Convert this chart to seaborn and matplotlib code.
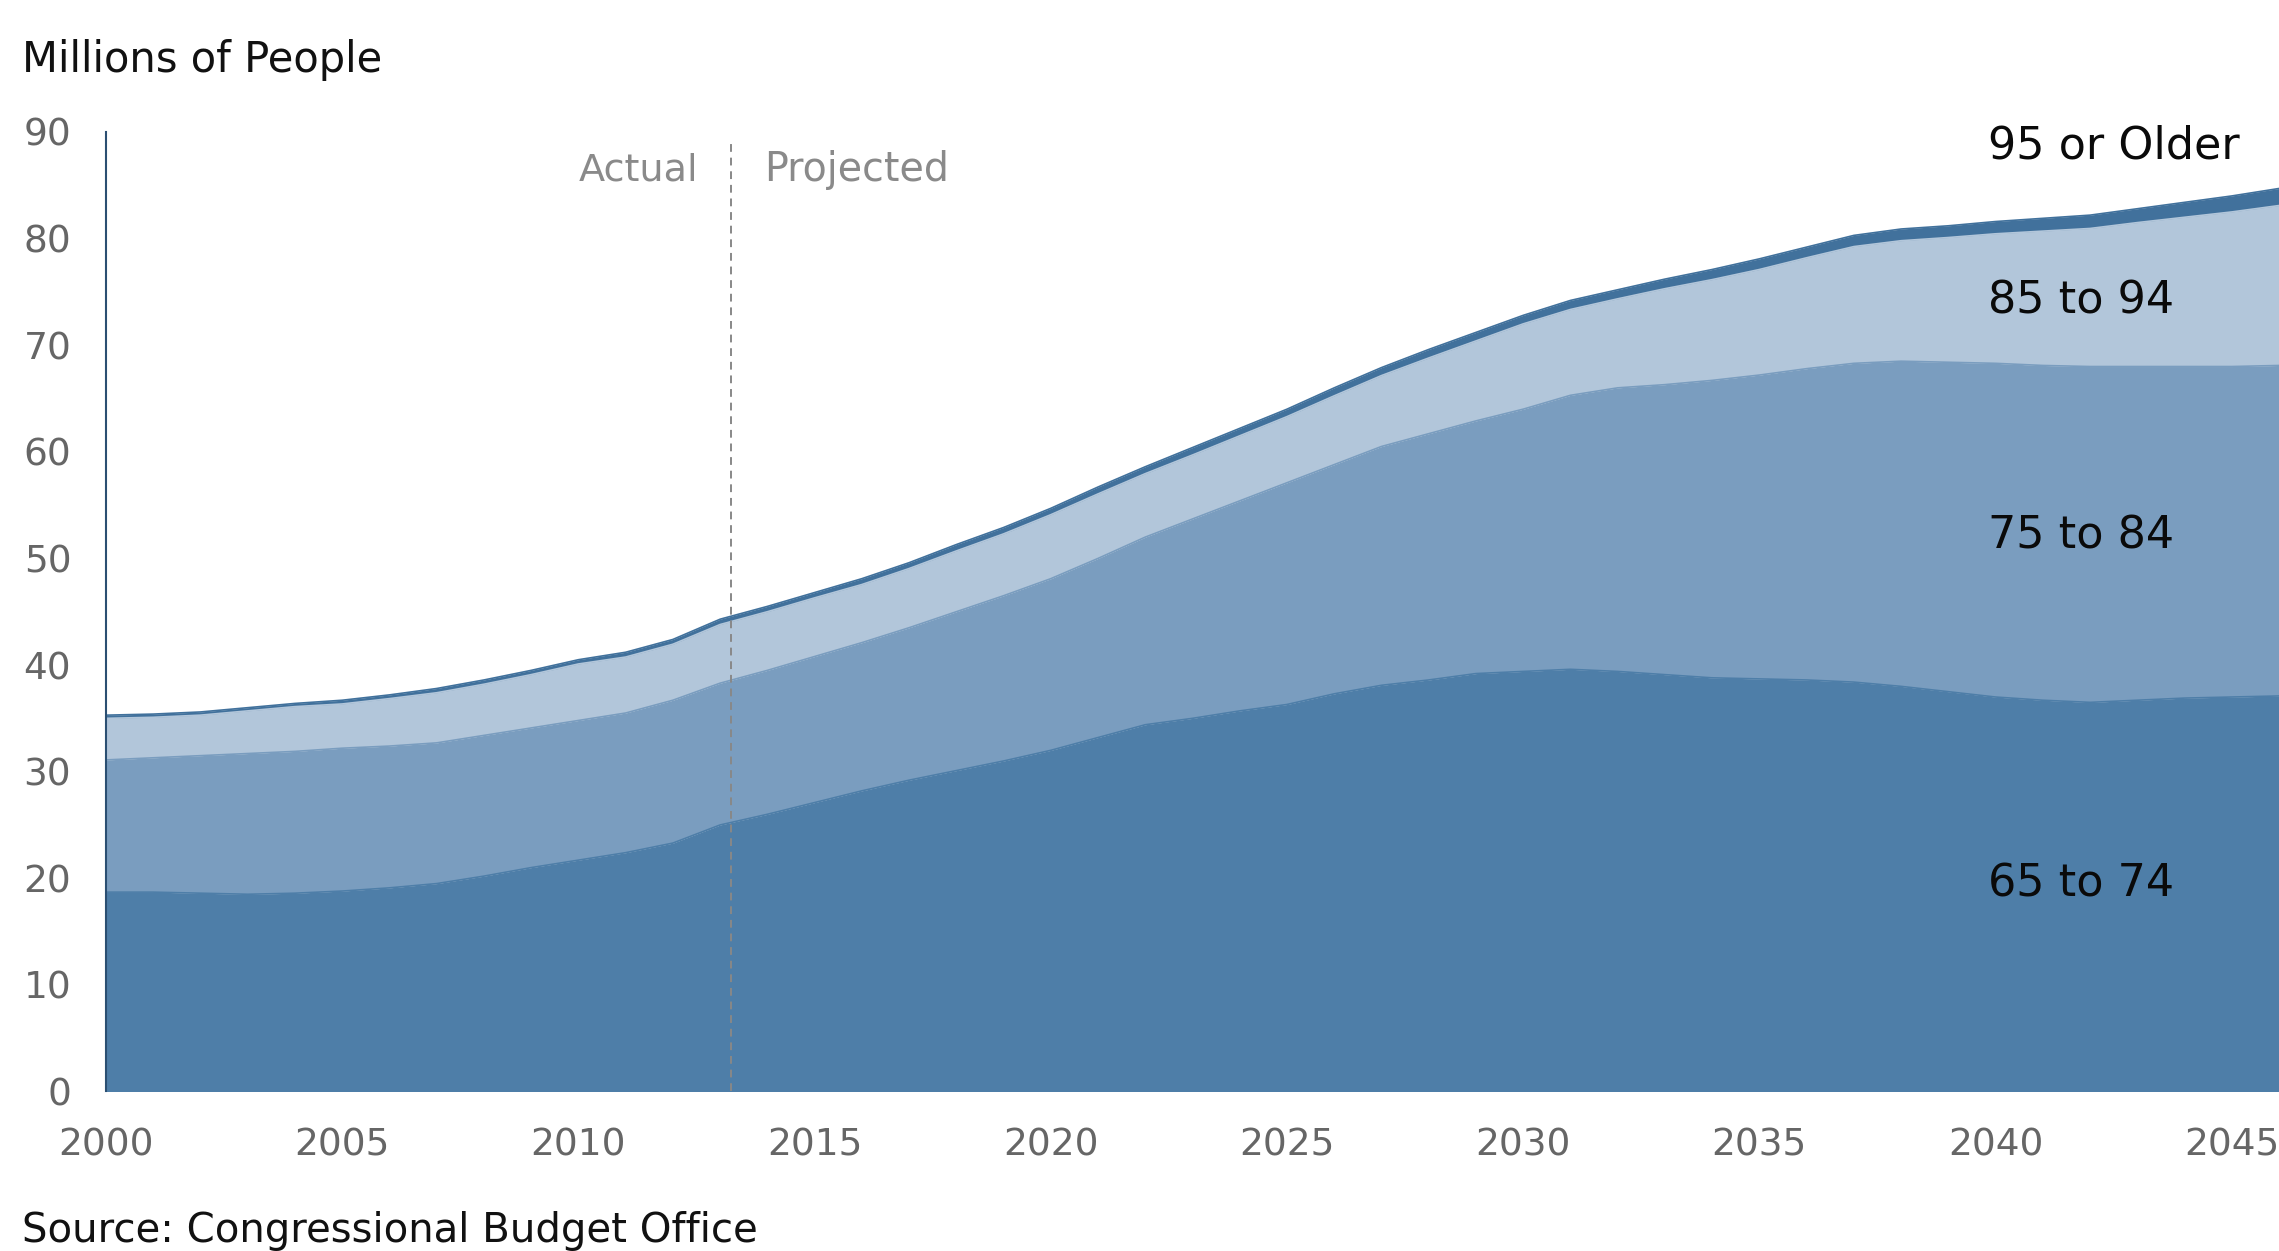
import numpy as np
import pandas as pd
import matplotlib
matplotlib.use("Agg")
import matplotlib.pyplot as plt
import seaborn as sns

years = list(range(2000, 2047))

age_65_74 = [18.7, 18.7, 18.6, 18.5, 18.6, 18.8, 19.1, 19.5, 20.2, 21.0,
             21.7, 22.4, 23.3, 25.0, 26.0, 27.1, 28.2, 29.2, 30.1, 31.0,
             32.0, 33.2, 34.4, 35.0, 35.7, 36.3, 37.3, 38.1, 38.6, 39.2,
             39.4, 39.6, 39.4, 39.1, 38.8, 38.7, 38.6, 38.4, 38.0, 37.5,
             37.0, 36.7, 36.5, 36.7, 36.9, 37.0, 37.1]
age_75_84 = [12.4, 12.6, 12.9, 13.2, 13.3, 13.4, 13.3, 13.2, 13.2, 13.1,
             13.1, 13.1, 13.4, 13.3, 13.5, 13.7, 13.9, 14.3, 14.9, 15.5,
             16.1, 16.8, 17.6, 18.7, 19.7, 20.8, 21.5, 22.4, 23.1, 23.7,
             24.6, 25.7, 26.6, 27.2, 27.9, 28.5, 29.2, 29.9, 30.5, 30.9,
             31.3, 31.4, 31.5, 31.3, 31.1, 31.0, 31.0]
age_85_94 = [3.9, 3.8, 3.8, 4.0, 4.2, 4.15, 4.45, 4.7, 4.8, 5.0,
             5.3, 5.25, 5.25, 5.5, 5.5, 5.5, 5.45, 5.55, 5.7, 5.8,
             6.0, 6.05, 5.95, 6.0, 6.1, 6.2, 6.45, 6.65, 7.1, 7.5,
             8.0, 8.05, 8.35, 9.0, 9.45, 9.9, 10.4, 10.95, 11.3, 11.7,
             12.15, 12.6, 12.95, 13.5, 14.0, 14.5, 15.0]
age_95_plus = [0.3, 0.3, 0.3, 0.3, 0.3, 0.35, 0.35, 0.4, 0.4, 0.4,
               0.4, 0.45, 0.45, 0.5, 0.5, 0.5, 0.55, 0.55, 0.6, 0.6,
               0.6, 0.65, 0.65, 0.7, 0.7, 0.7, 0.75, 0.75, 0.8, 0.8,
               0.8, 0.85, 0.85, 0.9, 0.95, 1.0, 1.0, 1.05, 1.1, 1.1,
               1.15, 1.2, 1.25, 1.3, 1.4, 1.5, 1.6]

band_labels = ["65 to 74", "75 to 84", "85 to 94", "95 or Older"]
label_y = [19.5, 52.1, 74.1, 88.7]
y_ticks = [0, 10, 20, 30, 40, 50, 60, 70, 80, 90]
x_ticks = [2000, 2005, 2010, 2015, 2020, 2025, 2030, 2035, 2040, 2045]
split_year = 2013.23

colors = ["#4e7ea8", "#7a9dbf", "#b2c6da", "#41719c"]

sns.set_theme(style="white")
plt.rcParams['font.family'] = ['DejaVu Sans']

df = pd.DataFrame({"year": years, "65 to 74": age_65_74, "75 to 84": age_75_84,
                   "85 to 94": age_85_94, "95 or Older": age_95_plus})

fig = plt.figure(figsize=(22.79, 12.51), dpi=100)
ax = fig.add_axes([0.0465, 0.1275, 0.9535, 0.767])

ax.stackplot(df["year"], df["65 to 74"], df["75 to 84"], df["85 to 94"], df["95 or Older"],
             colors=colors, linewidth=0)

# top boundaries drawn with seaborn
cum = df[band_labels].cumsum(axis=1)
for lab, col in zip(band_labels, colors):
    sns.lineplot(x=df["year"], y=cum[lab], ax=ax, color=col, linewidth=1.2, legend=False)

ax.set_xlim(2000, 2046)
ax.set_ylim(0, 90)
ax.set_xlabel("")
ax.set_ylabel("")
ax.set_yticks(y_ticks)
ax.set_xticks(x_ticks)
ax.tick_params(axis='y', direction='in', length=8, width=1.5, color='#2b4f72',
               labelsize=27, labelcolor='#666666', pad=25)
ax.tick_params(axis='x', direction='out', length=12, width=1, color='#cccccc',
               labelsize=27, labelcolor='#666666', pad=14)
for s in ['top', 'right', 'bottom']:
    ax.spines[s].set_visible(False)
ax.spines['left'].set_color('#2b4f72')
ax.spines['left'].set_linewidth(1.5)

ax.vlines(split_year, 0, 89, colors='#888888', linestyles=(0, (4, 3)), linewidth=1.4, zorder=5)
ax.text(split_year - 0.7, 86.4, "Actual", ha='right', va='center', fontsize=27.5, color='#8a8a8a')
ax.text(split_year + 0.7, 86.4, "Projected", ha='left', va='center', fontsize=28.5, color='#8a8a8a')

for lab, y in zip(band_labels, label_y):
    ax.text(2039.85, y, lab, ha='left', va='center', fontsize=32, color='#0a0a0a')

fig.text(0.0097, 0.952, "Millions of People", ha='left', va='center', fontsize=30, color='#111111')
fig.text(0.0097, 0.016, "Source: Congressional Budget Office", ha='left', va='center',
         fontsize=29, color='#111111')

fig.savefig("out.png", dpi=100, facecolor='white')
